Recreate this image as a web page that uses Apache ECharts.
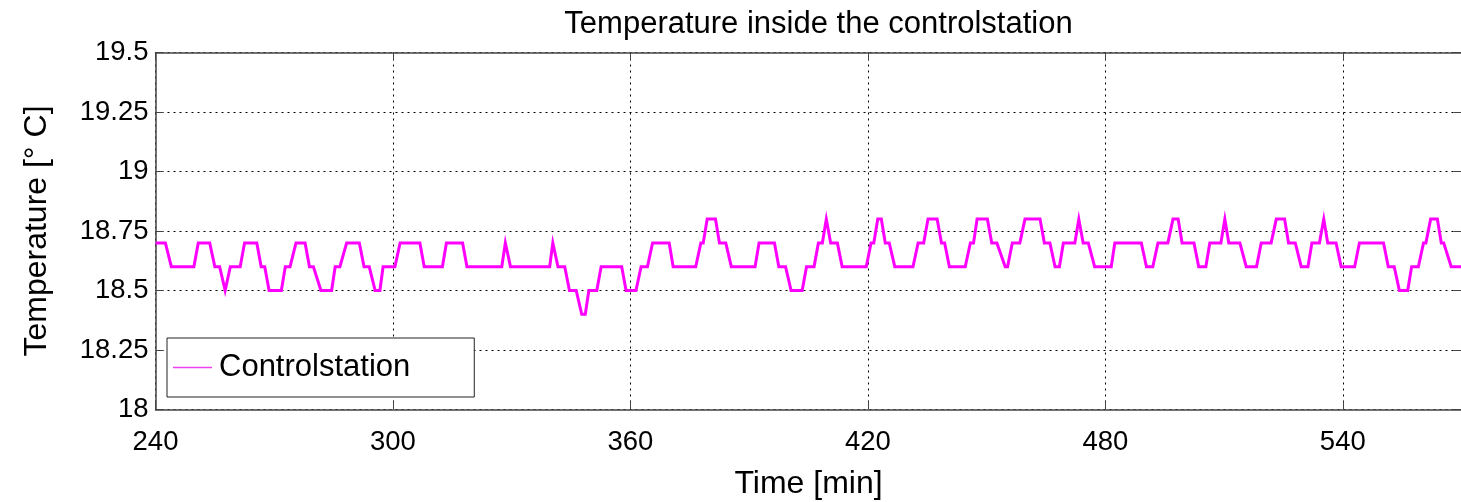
<!DOCTYPE html>
<html>
<head>
<meta charset="utf-8">
<script src="https://cdn.jsdelivr.net/npm/echarts@6/dist/echarts.min.js"></script>
<style>html,body{margin:0;padding:0;background:#fff}#c{width:1461px;height:502px}</style>
</head>
<body>
<div id="c"></div>
<script>
const titleText = 'Temperature inside the controlstation';
const seriesName = 'Controlstation';
const xName = 'Time [min]';
const yName = 'Temperature [° C]';
const xTicks = [240, 300, 360, 420, 480, 540];
const yTicks = [18, 18.25, 18.5, 18.75, 19, 19.25, 19.5];

const times = [240,242.5,244,249.7,250.8,253.7,255,256.2,257.6,258.9,261.4,262.5,265.6,266.7,267.6,268.7,271.8,272.8,274,275.5,277.8,278.9,279.9,281.8,284.5,285.4,286.6,288.3,291.5,292.7,294,295.5,296.7,297.5,300.5,
301.8,306.8,307.9,312.5,313.5,317.6,318.7,327.5,328.4,329.7,339.6,340.4,341.7,343.4,344.6,346.3,347.7,348.6,349.5,351.5,352.6,357.8,358.9,361.4,
362.7,364.3,365.6,369.8,370.8,376.5,377.8,378.4,379.4,381.5,382.5,384.1,385.5,391.5,392.5,396.4,397.5,399.2,400.6,403.4,404.5,406.4,407.5,408.5,409.5,410.6,412.3,413.5,419.6,
420.8,421.5,422.5,423.4,424.4,425.4,426.8,431.4,432.7,434.1,435.2,437.5,438.6,439.4,440.6,444.6,445.9,446.7,447.6,450.2,451.3,452.6,454.7,455.3,456.5,458.4,459.7,463.5,464.6,466,467.3,468.4,469.4,472.3,473.3,474.4,475.7,477.3,481.5,
482.4,489.1,490.4,492,493.3,495.8,497.1,498.4,499.4,502.4,503.6,505.4,506.4,509.2,510.2,511.2,514,515.6,518.2,519.4,521.9,523.2,525.3,526.3,528,529.5,531.2,532.2,534.1,535.2,536.2,538.3,539.6,543,544.2,550.3,551.5,553,554.3,556.4,557.4,559.1,560.4,561,562.2,563.9,564.9,565.5,567.4,570];

const temps = [18.7,18.7,18.6,18.6,18.7,18.7,18.6,18.6,18.5,18.6,18.6,18.7,18.7,18.6,18.6,18.5,18.5,18.6,18.6,18.7,18.7,18.6,18.6,18.5,18.5,18.6,18.6,18.7,18.7,18.6,18.6,18.5,18.5,18.6,18.6,
18.7,18.7,18.6,18.6,18.7,18.7,18.6,18.6,18.7,18.6,18.6,18.7,18.6,18.6,18.5,18.5,18.4,18.4,18.5,18.5,18.6,18.6,18.5,18.5,
18.6,18.6,18.7,18.7,18.6,18.6,18.7,18.7,18.8,18.8,18.7,18.7,18.6,18.6,18.7,18.7,18.6,18.6,18.5,18.5,18.6,18.6,18.7,18.7,18.8,18.7,18.7,18.6,18.6,
18.7,18.7,18.8,18.8,18.7,18.7,18.6,18.6,18.7,18.7,18.8,18.8,18.7,18.7,18.6,18.6,18.7,18.7,18.8,18.8,18.7,18.7,18.6,18.6,18.7,18.7,18.8,18.8,18.7,18.7,18.6,18.6,18.7,18.7,18.8,18.7,18.7,18.6,18.6,
18.7,18.7,18.6,18.6,18.7,18.7,18.8,18.8,18.7,18.7,18.6,18.6,18.7,18.7,18.8,18.7,18.7,18.6,18.6,18.7,18.7,18.8,18.8,18.7,18.7,18.6,18.6,18.7,18.7,18.8,18.7,18.7,18.6,18.6,18.7,18.7,18.6,18.6,18.5,18.5,18.6,18.6,18.7,18.7,18.8,18.8,18.7,18.7,18.6,18.6];

const data = times.map((t, i) => [t, temps[i]]);
const FONT = 'Liberation Sans, Arial, sans-serif';
const frame = '#444';

const chart = echarts.init(document.getElementById('c'));
chart.setOption({
  animation: false,
  title: {
    text: titleText, left: 813.5, textAlign: 'center', top: 4,
    textStyle: {fontFamily: FONT, fontSize: 31, fontWeight: 'normal', color: '#000'}
  },
  grid: {left: 155.5, top: 52.5, width: 1306, height: 357, containLabel: false, outerBoundsMode: 'none'},
  legend: {
    data: [seriesName], left: 167, top: 338,
    backgroundColor: '#fff', borderColor: '#222', borderWidth: 1, borderRadius: 0,
    padding: [14, 64, 14, 6],
    icon: 'rect', itemWidth: 39, itemHeight: 1.5,
    itemStyle: {color: '#f040f0', borderWidth: 0},
    lineStyle: {width: 0, opacity: 0},
    textStyle: {fontFamily: FONT, fontSize: 31, color: '#000', padding: [0, 0, 0, 2]}
  },
  xAxis: [{
    type: 'value', min: 240, max: 570, interval: 60,
    name: xName, nameLocation: 'middle', nameGap: 59,
    nameTextStyle: {fontFamily: FONT, fontSize: 32, color: '#000'},
    axisLine: {show: true, lineStyle: {color: frame, width: 1.5}},
    axisTick: {show: true, inside: true, length: 8, lineStyle: {color: frame}},
    axisLabel: {fontFamily: FONT, fontSize: 27.5, color: '#000', margin: 19, showMaxLabel: false,
      formatter: v => xTicks.includes(v) ? String(v) : ''},
    splitLine: {show: true, lineStyle: {type: [2, 4], color: '#000', width: 1}}
  }, {
    type: 'value', position: 'top', min: 240, max: 570, interval: 60,
    axisLine: {show: true, lineStyle: {color: frame, width: 1.5}},
    axisTick: {show: true, inside: true, length: 8, lineStyle: {color: frame}},
    axisLabel: {show: false}, splitLine: {show: false}
  }],
  yAxis: [{
    type: 'value', min: 18, max: 19.5, interval: 0.25,
    name: yName, nameLocation: 'middle', nameGap: 102, nameRotate: 90,
    nameTextStyle: {fontFamily: FONT, fontSize: 32, color: '#000'},
    axisLine: {show: true, lineStyle: {color: frame, width: 1.5}},
    axisTick: {show: true, inside: true, length: 8, lineStyle: {color: frame}},
    axisLabel: {fontFamily: FONT, fontSize: 27.5, color: '#000', margin: 7,
      formatter: v => yTicks.includes(v) ? String(v) : ''},
    splitLine: {show: true, lineStyle: {type: [2, 4], color: '#000', width: 1}}
  }, {
    type: 'value', position: 'right', min: 18, max: 19.5, interval: 0.25,
    axisLine: {show: false},
    axisTick: {show: true, inside: true, length: 8, lineStyle: {color: frame}},
    axisLabel: {show: false}, splitLine: {show: false}
  }],
  series: [{
    name: seriesName, type: 'line', data: data,
    xAxisIndex: 0, yAxisIndex: 0,
    showSymbol: false, symbol: 'none',
    lineStyle: {color: '#ff00ff', width: 3, join: 'miter', miterLimit: 10},
    itemStyle: {color: '#ff00ff'}
  }]
});
</script>
</body>
</html>
